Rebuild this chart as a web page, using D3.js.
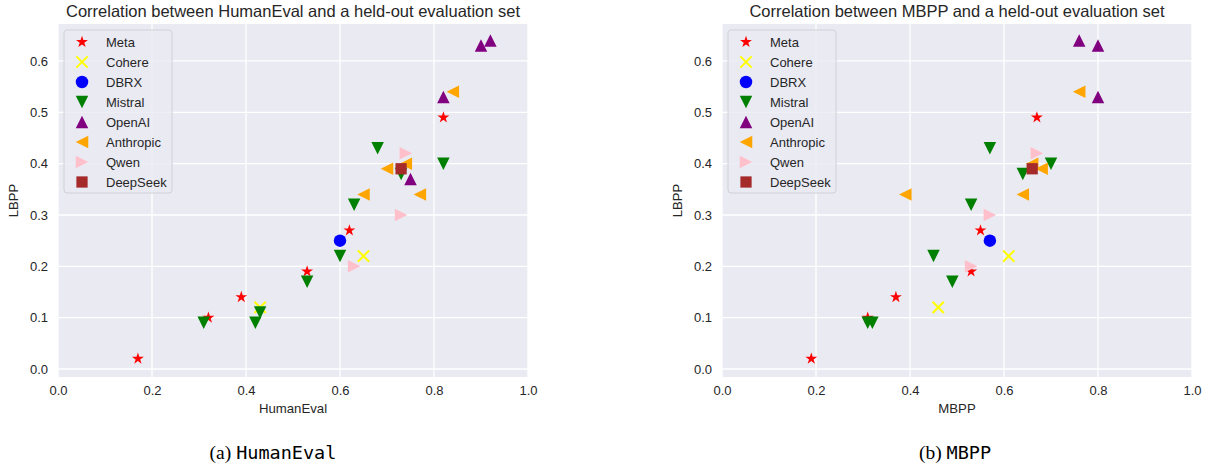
<!DOCTYPE html>
<html>
<head>
<meta charset="utf-8">
<script src="https://cdn.jsdelivr.net/npm/d3@7"></script>
<style>
  body { margin: 0; background: #fff; }
  text { font-family: "Liberation Sans", Arial, sans-serif; }
</style>
</head>
<body>
<svg id="svg1" width="1211" height="468"></svg>
<script>
'use strict'

// model families, in legend order
const families = ["Meta", "Cohere", "DBRX", "Mistral", "OpenAI", "Anthropic", "Qwen", "DeepSeek"];
const xTicks = [0.0, 0.2, 0.4, 0.6, 0.8, 1.0];
const yTicks = [0.0, 0.1, 0.2, 0.3, 0.4, 0.5, 0.6];

// HumanEval panel: score, LBPP, family
const humanEvalX = [0.17, 0.32, 0.39, 0.53, 0.62, 0.82,
                    0.43, 0.65,
                    0.60,
                    0.31, 0.42, 0.43, 0.53, 0.60, 0.63, 0.68, 0.73, 0.82,
                    0.90, 0.92, 0.82, 0.75,
                    0.84, 0.70, 0.74, 0.77, 0.65,
                    0.74, 0.73, 0.63,
                    0.73];
const humanEvalY = [0.02, 0.10, 0.14, 0.19, 0.27, 0.49,
                    0.12, 0.22,
                    0.25,
                    0.09, 0.09, 0.11, 0.17, 0.22, 0.32, 0.43, 0.38, 0.40,
                    0.63, 0.64, 0.53, 0.37,
                    0.54, 0.39, 0.40, 0.34, 0.34,
                    0.42, 0.30, 0.20,
                    0.39];
const humanEvalFamily = ["Meta", "Meta", "Meta", "Meta", "Meta", "Meta",
                         "Cohere", "Cohere",
                         "DBRX",
                         "Mistral", "Mistral", "Mistral", "Mistral", "Mistral", "Mistral", "Mistral", "Mistral", "Mistral",
                         "OpenAI", "OpenAI", "OpenAI", "OpenAI",
                         "Anthropic", "Anthropic", "Anthropic", "Anthropic", "Anthropic",
                         "Qwen", "Qwen", "Qwen",
                         "DeepSeek"];

// MBPP panel: score, LBPP, family
const mbppX = [0.19, 0.31, 0.37, 0.53, 0.55, 0.67,
               0.46, 0.61,
               0.57,
               0.31, 0.32, 0.45, 0.49, 0.53, 0.57, 0.64, 0.70,
               0.76, 0.80, 0.80,
               0.39, 0.76, 0.66, 0.68, 0.64,
               0.67, 0.57, 0.53,
               0.66];
const mbppY = [0.02, 0.10, 0.14, 0.19, 0.27, 0.49,
               0.12, 0.22,
               0.25,
               0.09, 0.09, 0.22, 0.17, 0.32, 0.43, 0.38, 0.40,
               0.64, 0.63, 0.53,
               0.34, 0.54, 0.40, 0.39, 0.34,
               0.42, 0.30, 0.20,
               0.39];
const mbppFamily = ["Meta", "Meta", "Meta", "Meta", "Meta", "Meta",
                    "Cohere", "Cohere",
                    "DBRX",
                    "Mistral", "Mistral", "Mistral", "Mistral", "Mistral", "Mistral", "Mistral", "Mistral",
                    "OpenAI", "OpenAI", "OpenAI",
                    "Anthropic", "Anthropic", "Anthropic", "Anthropic", "Anthropic",
                    "Qwen", "Qwen", "Qwen",
                    "DeepSeek"];

// styles
const familyColor = {
  Meta: "red", Cohere: "yellow", DBRX: "blue", Mistral: "green",
  OpenAI: "purple", Anthropic: "orange", Qwen: "pink", DeepSeek: "brown"
};
const familyMarker = {
  Meta: "star", Cohere: "x", DBRX: "circle", Mistral: "tri_down",
  OpenAI: "tri_up", Anthropic: "tri_left", Qwen: "tri_right", DeepSeek: "square"
};

/**
 * @function
 * @description path string for a matplotlib-like marker of size ms (px)
 */
function markerPath(kind, ms) {
  let r = ms / 2;
  if (kind === "circle") {
    return `M${r},0A${r},${r} 0 1,1 ${-r},0A${r},${r} 0 1,1 ${r},0Z`;
  }
  if (kind === "square") {
    let s = r * 0.9;
    return `M${-s},${-s}H${s}V${s}H${-s}Z`;
  }
  if (kind === "tri_up") return `M0,${-r}L${r},${r}L${-r},${r}Z`;
  if (kind === "tri_down") return `M0,${r}L${r},${-r}L${-r},${-r}Z`;
  if (kind === "tri_left") return `M${-r},0L${r},${-r}L${r},${r}Z`;
  if (kind === "tri_right") return `M${r},0L${-r},${-r}L${-r},${r}Z`;
  if (kind === "x") {
    let s = r * 0.9;
    return `M${-s},${-s}L${s},${s}M${-s},${s}L${s},${-s}`;
  }
  // five point star
  let pts = [];
  for (let i = 0; i < 10; i++) {
    let rad = i % 2 === 0 ? r : r * 0.381966;
    let a = -Math.PI / 2 + i * Math.PI / 5;
    pts.push([rad * Math.cos(a), rad * Math.sin(a)]);
  }
  return "M" + pts.map(p => p[0].toFixed(2) + "," + p[1].toFixed(2)).join("L") + "Z";
}

function drawMarker(sel, fam, ms) {
  let kind = familyMarker[fam];
  let p = sel.append("path").attr("d", markerPath(kind, ms));
  if (kind === "x") {
    p.attr("fill", "none").attr("stroke", familyColor[fam]).attr("stroke-width", 2);
  } else {
    p.attr("fill", familyColor[fam]);
  }
  return p;
}

const svg = d3.select("#svg1");
svg.append("rect").attr("width", 1211).attr("height", 468).attr("fill", "#fff");

/**
 * @function
 * @description draw one scatter panel
 */
function drawPanel(left, xs, ys, fams, title, xLabel, capLetter, capName, capCenter) {
  let top = 24, bottom = 377, width = 470;
  let x = d3.scaleLinear().domain([0, 1]).range([left, left + width]);
  let y = d3.scaleLinear().domain([-0.0156, 0.672]).range([bottom, top]);
  let g = svg.append("g");

  g.append("rect")
    .attr("x", left).attr("y", top)
    .attr("width", width).attr("height", bottom - top)
    .attr("fill", "#EAEAF2");

  // grid
  g.append("g").selectAll("line").data(xTicks).enter().append("line")
    .attr("x1", d => x(d)).attr("x2", d => x(d))
    .attr("y1", top).attr("y2", bottom)
    .attr("stroke", "#fff").attr("stroke-width", 1.3);
  g.append("g").selectAll("line").data(yTicks).enter().append("line")
    .attr("x1", left).attr("x2", left + width)
    .attr("y1", d => y(d)).attr("y2", d => y(d))
    .attr("stroke", "#fff").attr("stroke-width", 1.3);

  // axes (no domain line, no tick marks: seaborn darkgrid look)
  let xAxis = g.append("g")
    .attr("transform", `translate(0,${bottom})`)
    .call(d3.axisBottom(x).tickValues(xTicks).tickFormat(d3.format(".1f")).tickSize(0).tickPadding(9));
  let yAxis = g.append("g")
    .attr("transform", `translate(${left},0)`)
    .call(d3.axisLeft(y).tickValues(yTicks).tickFormat(d3.format(".1f")).tickSize(0).tickPadding(10));
  [xAxis, yAxis].forEach(a => {
    a.select(".domain").remove();
    a.selectAll("text")
      .attr("font-family", "'Liberation Sans', Arial, sans-serif")
      .attr("font-size", 13).attr("fill", "#262626");
  });

  // points
  let pts = g.append("g");
  xs.forEach((v, i) => {
    drawMarker(pts.append("g").attr("transform", `translate(${x(v)},${y(ys[i])})`), fams[i], 12.5);
  });

  // titles
  g.append("text").attr("x", left + width / 2).attr("y", 17)
    .attr("text-anchor", "middle").attr("font-size", 16.5).attr("fill", "#262626")
    .text(title);
  g.append("text").attr("x", left + width / 2).attr("y", 413)
    .attr("text-anchor", "middle").attr("font-size", 13.2).attr("fill", "#262626")
    .text(xLabel);
  g.append("text")
    .attr("transform", `translate(${left - 40},${(top + bottom) / 2}) rotate(-90)`)
    .attr("text-anchor", "middle").attr("font-size", 13.2).attr("fill", "#262626")
    .text("LBPP");

  // legend
  let lg = g.append("g").attr("transform", `translate(${left + 6},30)`);
  lg.append("rect").attr("width", 108).attr("height", 163).attr("rx", 3)
    .attr("fill", "#EAEAF2").attr("fill-opacity", 0.8)
    .attr("stroke", "#d0d0d6").attr("stroke-width", 1);
  families.forEach((f, i) => {
    let row = lg.append("g").attr("transform", `translate(18,${12 + i * 20})`);
    drawMarker(row.append("g"), f, 12.5);
    row.append("text").attr("x", 24).attr("y", 4.5)
      .attr("font-size", 13).attr("fill", "#262626").text(f);
  });

  // caption under the panel
  let cap = svg.append("text").attr("x", capCenter).attr("y", 459)
    .attr("text-anchor", "middle").attr("font-size", 19.5).attr("fill", "#000");
  cap.append("tspan").attr("font-family", "'Liberation Serif', 'DejaVu Serif', serif").text(capLetter + " ");
  cap.append("tspan").attr("font-family", "'DejaVu Sans Mono', 'Liberation Mono', monospace")
    .attr("font-size", 18.5).text(capName);
}

drawPanel(58, humanEvalX, humanEvalY, humanEvalFamily,
  "Correlation between HumanEval and a held-out evaluation set", "HumanEval",
  "(a)", "HumanEval", 273);
drawPanel(722, mbppX, mbppY, mbppFamily,
  "Correlation between MBPP and a held-out evaluation set", "MBPP",
  "(b)", "MBPP", 955);
</script>
</body>
</html>
